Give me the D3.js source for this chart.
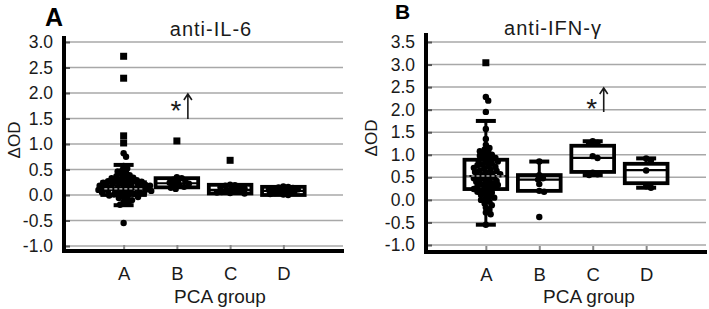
<!DOCTYPE html>
<html>
<head>
<meta charset="utf-8">
<script src="https://cdn.jsdelivr.net/npm/d3@7/dist/d3.min.js"></script>
<style>
  html, body { margin: 0; padding: 0; background: #fff; }
  svg { display: block; font-family: "Liberation Sans", Arial, sans-serif; }
</style>
</head>
<body>
<svg id="chart" width="709" height="309"></svg>
<script>
// categories
const groups = ['A', 'B', 'C', 'D'];

// anti-IL-6 panel
const il6Ticks = [-1.0, -0.5, 0.0, 0.5, 1.0, 1.5, 2.0, 2.5, 3.0];
const il6Dots = [
  [0.82, 0.75, 0.57, 0.52, 0.49, 0.46, 0.44, 0.41, 0.39, 0.37, 0.36, 0.34, 0.33, 0.31, 0.3, 0.29,
   0.28, 0.27, 0.26, 0.25, 0.25, 0.24, 0.23, 0.22, 0.21, 0.2, 0.2, 0.19, 0.18, 0.18, 0.17, 0.16,
   0.15, 0.15, 0.14, 0.13, 0.13, 0.12, 0.11, 0.1, 0.1, 0.09, 0.08, 0.08, 0.07, 0.06, 0.05, 0.05,
   0.04, 0.03, 0.02, 0.01, 0.0, -0.01, -0.03, -0.04, -0.06, -0.08, -0.1, -0.13, -0.16, -0.19, -0.55],
  [0.35, 0.33, 0.3, 0.28, 0.26, 0.24, 0.22, 0.2, 0.18, 0.16, 0.14, 0.12],
  [0.2, 0.19, 0.18, 0.16, 0.15, 0.13, 0.12, 0.1, 0.09, 0.08, 0.06, 0.05, 0.04, 0.03],
  [0.17, 0.16, 0.15, 0.14, 0.12, 0.11, 0.1, 0.09, 0.08, 0.07, 0.05, 0.04, 0.02, 0.01, 0.0]
];
const il6Squares = [[2.72, 2.29, 1.16, 1.02], [1.06], [0.68], []];
const il6Q1 = [0.0, 0.15, 0.03, 0.0];
const il6Median = [0.12, 0.23, 0.1, 0.08];
const il6Q3 = [0.25, 0.33, 0.2, 0.16];
const il6Low = [-0.2, 0.15, 0.03, 0.0];
const il6High = [0.59, 0.33, 0.2, 0.16];

// anti-IFN-γ panel
const ifnTicks = [-1.0, -0.5, 0.0, 0.5, 1.0, 1.5, 2.0, 2.5, 3.0, 3.5];
const ifnDots = [
  [2.28, 2.2, 1.95, 1.57, 1.35, 1.22, 1.15, 1.12, 1.08, 1.05, 1.03, 1.0, 0.98, 0.96, 0.93, 0.91,
   0.89, 0.87, 0.85, 0.83, 0.8, 0.78, 0.77, 0.75, 0.73, 0.71, 0.69, 0.67, 0.65, 0.64, 0.62, 0.6,
   0.58, 0.57, 0.55, 0.53, 0.52, 0.5, 0.48, 0.47, 0.45, 0.43, 0.42, 0.4, 0.38, 0.37, 0.35, 0.33,
   0.31, 0.3, 0.28, 0.26, 0.24, 0.22, 0.2, 0.18, 0.16, 0.13, 0.11, 0.08, 0.05, 0.03, 0.0, -0.04,
   -0.08, -0.12, -0.17, -0.22, -0.28, -0.32, -0.55],
  [0.85, 0.55, 0.48, 0.45, 0.35, 0.2, 0.18, -0.38],
  [1.3, 1.27, 1.25, 0.97, 0.93, 0.6, 0.57, 0.55],
  [0.92, 0.88, 0.65, 0.3, 0.27]
];
const ifnSquares = [[3.04], [], [], []];
const ifnQ1 = [0.24, 0.2, 0.62, 0.37];
const ifnMedian = [0.53, 0.45, 0.93, 0.66];
const ifnQ3 = [0.89, 0.55, 1.2, 0.8];
const ifnLow = [-0.55, 0.2, 0.55, 0.27];
const ifnHigh = [1.75, 0.85, 1.3, 0.92];

// significance marks: group, arrow from / to, star value
const il6Sig = { group: 'B', from: 1.49, to: 1.98, star: 1.75 };
const ifnSig = { group: 'C', from: 1.95, to: 2.48, star: 2.13 };

const svg = d3.select('#chart');
const ink = '#1a1a1a';

const panels = [
  {
    letter: 'A', title: 'anti-IL-6', ticks: il6Ticks, dots: il6Dots, squares: il6Squares,
    q1: il6Q1, med: il6Median, q3: il6Q3, lo: il6Low, hi: il6High, sig: il6Sig,
    left: 64, right: 343, yRange: [246, 42], axisTop: 36, axisBottom: 251,
    letterX: 45, letterY: 26, letterSize: 25, titleX: 211, titleY: 36,
    yTitleX: 14, yTitleY: 140, xTitleX: 220
  },
  {
    letter: 'B', title: 'anti-IFN-γ', ticks: ifnTicks, dots: ifnDots, squares: ifnSquares,
    q1: ifnQ1, med: ifnMedian, q3: ifnQ3, lo: ifnLow, hi: ifnHigh, sig: ifnSig,
    left: 426, right: 706, yRange: [245, 42], axisTop: 33, axisBottom: 252,
    letterX: 395, letterY: 19, letterSize: 21, titleX: 553, titleY: 35,
    yTitleX: 371, yTitleY: 138, xTitleX: 589
  }
];

// simple beeswarm: spread points sideways until they stop overlapping
function swarm(values, cx, y, dist) {
  const placed = [];
  values.slice().sort((a, b) => b - a).forEach(v => {
    const py = y(v);
    let px = cx;
    for (let i = 0; i < 400; i++) {
      const off = (i % 2 ? 1 : -1) * Math.ceil(i / 2) * 1.2;
      px = cx + off;
      if (placed.every(p => (p.x - px) ** 2 + (p.y - py) ** 2 >= dist * dist)) break;
    }
    placed.push({ x: px, y: py });
  });
  return placed;
}

panels.forEach(p => {
  const y = d3.scaleLinear().domain([p.ticks[0], p.ticks[p.ticks.length - 1]]).range(p.yRange);
  const x = d3.scalePoint().domain(groups).range([p.left, p.right]).padding(1.12);
  const boxW = x.step() * 0.8;
  const g = svg.append('g');

  // gridlines
  g.append('g')
    .selectAll('line')
    .data(p.ticks)
    .join('line')
    .attr('x1', p.left).attr('x2', p.right)
    .attr('y1', d => y(d)).attr('y2', d => y(d))
    .attr('stroke', '#a8a8a8').attr('stroke-width', 1.5);

  // y axis ticks + labels
  const yAxis = g.append('g')
    .attr('transform', `translate(${p.left},0)`)
    .call(d3.axisLeft(y).tickValues(p.ticks).tickFormat(d => d.toFixed(1))
      .tickSizeInner(-6).tickSizeOuter(0).tickPadding(11));
  yAxis.select('.domain').remove();
  yAxis.selectAll('line').attr('stroke', '#555').attr('stroke-width', 2);
  yAxis.selectAll('text').attr('fill', ink).style('font-size', '17.5px').attr('font-family', null);

  // x axis ticks + labels
  const xAxis = g.append('g')
    .attr('transform', `translate(0,${p.axisBottom - 1})`)
    .call(d3.axisBottom(x).tickSizeInner(-5).tickSizeOuter(0).tickPadding(17));
  xAxis.select('.domain').remove();
  xAxis.selectAll('line').attr('stroke', '#888').attr('stroke-width', 2);
  xAxis.selectAll('text').attr('fill', ink).style('font-size', '18.5px').attr('font-family', null);

  // axis lines
  g.append('line')
    .attr('x1', p.left).attr('x2', p.left)
    .attr('y1', p.axisTop).attr('y2', p.axisBottom + 2)
    .attr('stroke', '#000').attr('stroke-width', 4);
  g.append('line')
    .attr('x1', p.left - 2).attr('x2', p.right + 1)
    .attr('y1', p.axisBottom).attr('y2', p.axisBottom)
    .attr('stroke', '#000').attr('stroke-width', 4);

  groups.forEach((grp, i) => {
    const cx = x(grp);
    const bg = g.append('g');

    // whiskers
    if (p.hi[i] > p.q3[i]) {
      bg.append('line').attr('x1', cx).attr('x2', cx)
        .attr('y1', y(p.q3[i])).attr('y2', y(p.hi[i]))
        .attr('stroke', '#000').attr('stroke-width', 3);
      bg.append('line').attr('x1', cx - 10).attr('x2', cx + 10)
        .attr('y1', y(p.hi[i])).attr('y2', y(p.hi[i]))
        .attr('stroke', '#000').attr('stroke-width', 4);
    }
    if (p.lo[i] < p.q1[i]) {
      bg.append('line').attr('x1', cx).attr('x2', cx)
        .attr('y1', y(p.q1[i])).attr('y2', y(p.lo[i]))
        .attr('stroke', '#000').attr('stroke-width', 3);
      bg.append('line').attr('x1', cx - 10).attr('x2', cx + 10)
        .attr('y1', y(p.lo[i])).attr('y2', y(p.lo[i]))
        .attr('stroke', '#000').attr('stroke-width', 4);
    }

    // box
    bg.append('rect')
      .attr('x', cx - boxW / 2).attr('width', boxW)
      .attr('y', y(p.q3[i])).attr('height', y(p.q1[i]) - y(p.q3[i]))
      .attr('fill', 'none').attr('stroke', '#000').attr('stroke-width', 3.8);
    bg.append('line')
      .attr('x1', cx - boxW / 2).attr('x2', cx + boxW / 2)
      .attr('y1', y(p.med[i])).attr('y2', y(p.med[i]))
      .attr('stroke', '#000').attr('stroke-width', 2.2);

    // points
    bg.selectAll('circle')
      .data(swarm(p.dots[i], cx, y, 4.2))
      .join('circle')
      .attr('cx', d => d.x).attr('cy', d => d.y).attr('r', 3.2)
      .attr('fill', '#000');
    bg.selectAll('rect.sq')
      .data(p.squares[i])
      .join('rect')
      .attr('class', 'sq')
      .attr('x', cx - 3.5).attr('y', d => y(d) - 3.5)
      .attr('width', 7).attr('height', 7)
      .attr('fill', '#000');

    // dense clouds hide the median, so mark it with light dashes
    if (p.dots[i].length > 20) {
      bg.append('line')
        .attr('x1', cx - boxW / 2 + 2).attr('x2', cx + boxW / 2 - 2)
        .attr('y1', y(p.med[i])).attr('y2', y(p.med[i]))
        .attr('stroke', '#fff').attr('stroke-width', 1)
        .attr('stroke-dasharray', '3,2');
    }
  });

  // significance mark
  const sx = x(p.sig.group);
  g.append('text')
    .attr('x', sx - 1).attr('y', y(p.sig.star) + 14)
    .attr('text-anchor', 'middle')
    .attr('fill', ink).style('font-size', '28px')
    .text('*');
  const ax = sx + 11, ay0 = y(p.sig.to), ay1 = y(p.sig.from);
  g.append('path')
    .attr('d', `M${ax},${ay1}V${ay0}M${ax - 4},${ay0 + 6}L${ax},${ay0}L${ax + 4},${ay0 + 6}`)
    .attr('fill', 'none').attr('stroke', ink).attr('stroke-width', 1.6);

  // texts
  g.append('text')
    .attr('x', p.letterX).attr('y', p.letterY)
    .attr('fill', '#000').style('font-size', p.letterSize + 'px').style('font-weight', 'bold')
    .text(p.letter);
  g.append('text')
    .attr('x', p.titleX).attr('y', p.titleY)
    .attr('text-anchor', 'middle')
    .attr('fill', ink).style('font-size', '20px').style('letter-spacing', '1px')
    .text(p.title);
  g.append('text')
    .attr('transform', `translate(${p.yTitleX},${p.yTitleY}) rotate(-90)`)
    .attr('text-anchor', 'middle').attr('dy', '0.35em')
    .attr('fill', ink).style('font-size', '17px')
    .text('ΔOD');
  g.append('text')
    .attr('x', p.xTitleX).attr('y', 303)
    .attr('text-anchor', 'middle')
    .attr('fill', ink).style('font-size', '19px')
    .text('PCA group');
});
</script>
</body>
</html>
